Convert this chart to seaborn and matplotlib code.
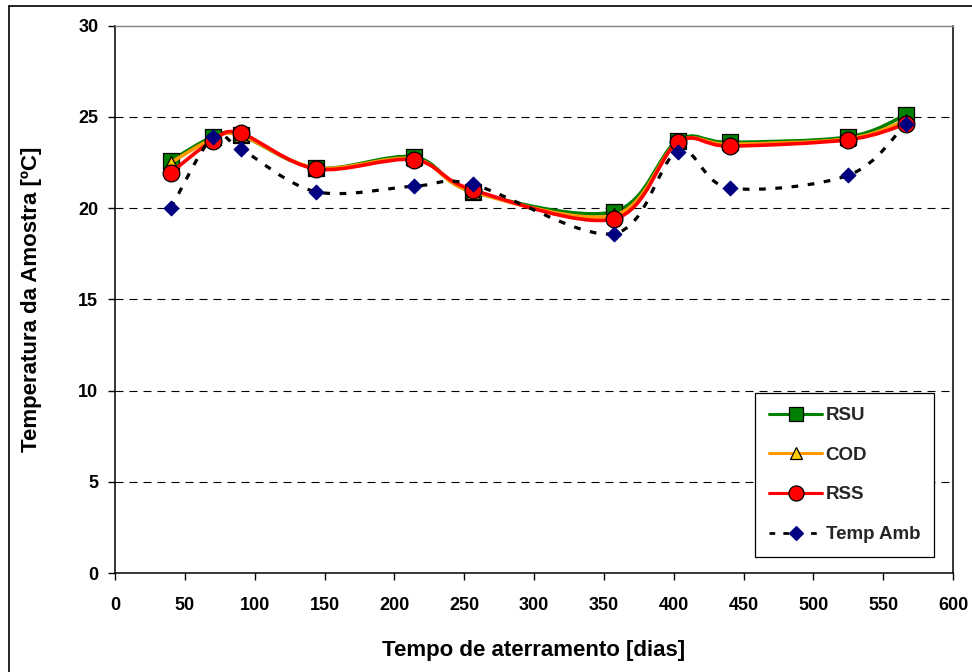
import numpy as np
import pandas as pd
import matplotlib
matplotlib.use("Agg")
import matplotlib.pyplot as plt
from matplotlib.path import Path
from matplotlib.patches import PathPatch
from matplotlib.lines import Line2D
import seaborn as sns

# Days since landfilling
dias = [40, 70, 90, 144, 214, 256, 357, 403, 440, 525, 566]

# Sample temperature (ºC) for each waste type and ambient temperature
rsu = [22.6, 23.9, 24.0, 22.2, 22.8, 20.9, 19.8, 23.7, 23.6, 23.9, 25.1]
cod = [22.5, 23.8, 24.0, 22.2, 22.7, 20.9, 19.6, 23.6, 23.5, 23.8, 24.8]
rss = [21.95, 23.7, 24.1, 22.15, 22.65, 21.0, 19.4, 23.6, 23.4, 23.75, 24.6]
temp_amb = [20.0, 23.9, 23.25, 20.9, 21.2, 21.3, 18.6, 23.1, 21.1, 21.8, 24.6]

series_names = ["RSU", "COD", "RSS", "Temp Amb"]
x_ticks = [0, 50, 100, 150, 200, 250, 300, 350, 400, 450, 500, 550, 600]
y_ticks = [0, 5, 10, 15, 20, 25, 30]

sns.set_theme(style="white")
plt.rcParams["font.family"] = ["Liberation Sans", "DejaVu Sans"]
plt.rcParams["font.weight"] = "bold"

fig = plt.figure(figsize=(9.72, 6.72), dpi=100)
ax = fig.add_axes([115 / 972, 1 - 573 / 672, 838 / 972, 547.3 / 672])


def smooth_path(xs, ys):
    """Smoothed (Catmull-Rom style) Bezier path through the given points."""
    pts = np.column_stack([xs, ys]).astype(float)
    n = len(pts)
    verts = [pts[0]]
    codes = [Path.MOVETO]
    for i in range(n - 1):
        p0 = pts[i - 1] if i > 0 else pts[i]
        p1 = pts[i]
        p2 = pts[i + 1]
        p3 = pts[i + 2] if i + 2 < n else pts[i + 1]
        c1 = p1 + (p2 - p0) / 6.0
        c2 = p2 - (p3 - p1) / 6.0
        verts += [c1, c2, p2]
        codes += [Path.CURVE4] * 3
    return Path(np.array(verts), codes)


styles = {
    "RSU": dict(line="#008000", face="#008000", marker="s", size=125, ls="-", lw=2.6),
    "COD": dict(line="#FF9900", face="#FFCC00", marker="^", size=100, ls="-", lw=2.6),
    "RSS": dict(line="#FF0000", face="#FF0000", marker="o", size=145, ls="-", lw=2.6),
    "Temp Amb": dict(line="#000000", face="#000080", marker="D", size=55,
                     ls=(0, (2.1, 3.0)), lw=2.3),
}
values = {"RSU": rsu, "COD": cod, "RSS": rss, "Temp Amb": temp_amb}

df = pd.DataFrame({"dias": dias, **values}).melt(
    id_vars="dias", var_name="serie", value_name="temp")

z = 3
for name in series_names:
    st = styles[name]
    patch = PathPatch(smooth_path(dias, values[name]), facecolor="none",
                      edgecolor=st["line"], lw=st["lw"], linestyle=st["ls"],
                      capstyle="butt", joinstyle="round", zorder=z)
    ax.add_patch(patch)
    sub = df[df["serie"] == name]
    sns.scatterplot(data=sub, x="dias", y="temp", marker=st["marker"],
                    s=st["size"], color=st["face"],
                    edgecolor="#000000" if name != "Temp Amb" else st["face"],
                    linewidth=0.9, ax=ax, zorder=z + 1, legend=False)
    z += 2

ax.set_xlim(0, 600)
ax.set_ylim(0, 30)
ax.set_xticks(x_ticks)
ax.set_yticks(y_ticks)
ax.tick_params(axis="both", which="major", direction="out", length=5, width=1,
               color="black", labelsize=13, labelcolor="black", bottom=True, left=True)
ax.tick_params(axis="x", pad=12)
ax.tick_params(axis="y", pad=7)
for lab in ax.get_xticklabels() + ax.get_yticklabels():
    lab.set_fontweight("bold")

# dashed horizontal gridlines
for yv in y_ticks[1:-1]:
    ax.axhline(yv, color="black", lw=0.8, ls=(0, (7.2, 5.4)), zorder=1)

for side in ["left", "bottom", "right"]:
    ax.spines[side].set_color("black")
    ax.spines[side].set_linewidth(1.1)
ax.spines["top"].set_color("#808080")
ax.spines["top"].set_linewidth(1.0)

ax.set_xlabel("Tempo de aterramento [dias]", fontsize=16, fontweight="bold",
              labelpad=19, color="black")
ax.set_ylabel("Temperatura da Amostra [ºC]", fontsize=16, fontweight="bold",
              labelpad=26, color="black")

handles = []
for name in series_names:
    st = styles[name]
    handles.append(Line2D([0], [0], color=st["line"], lw=st["lw"] * 0.85,
                          linestyle=st["ls"], marker=st["marker"],
                          markersize=np.sqrt(st["size"]) * 0.9,
                          markerfacecolor=st["face"],
                          markeredgecolor="black" if name != "Temp Amb" else st["face"],
                          markeredgewidth=0.9, dash_capstyle="butt"))
leg = ax.legend(handles, series_names, loc="lower left",
                bbox_to_anchor=(0.764, 0.029), frameon=True, fancybox=False,
                framealpha=1, edgecolor="black",
                prop={"weight": "bold", "size": 13.5},
                handlelength=2.8, handletextpad=0.2, labelspacing=1.2,
                borderpad=0.75, borderaxespad=0)
leg.get_frame().set_linewidth(0.9)
leg.set_zorder(20)

# outer chart border
fig.add_artist(Line2D([9 / 972, 1], [1 - 6 / 672, 1 - 6 / 672],
                      color="black", lw=1.2, transform=fig.transFigure))
fig.add_artist(Line2D([9 / 972, 9 / 972], [0, 1 - 6 / 672],
                      color="black", lw=1.2, transform=fig.transFigure))

fig.savefig("out.png", dpi=100, facecolor="white")
